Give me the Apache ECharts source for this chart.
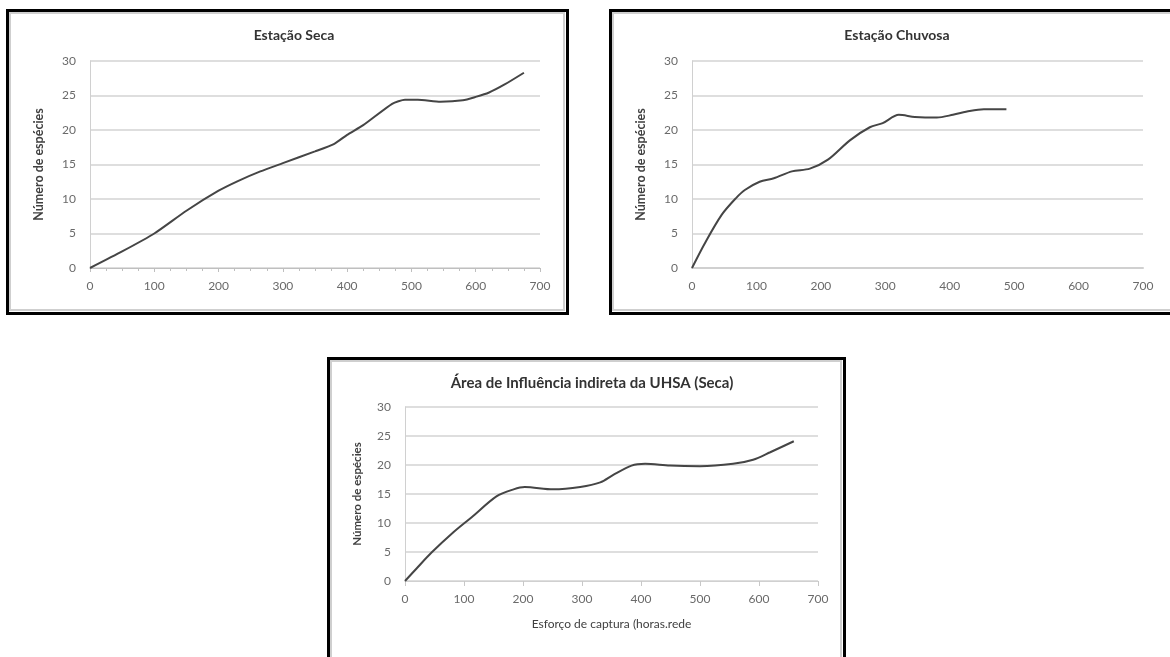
<!DOCTYPE html>
<html>
<head>
<meta charset="utf-8">
<script src="https://cdn.jsdelivr.net/npm/echarts@6/dist/echarts.min.js"></script>
<style>
html,body{margin:0;padding:0;background:#fff;}
#c{width:1170px;height:657px;}
</style>
</head>
<body>
<div id="c"></div>
<script>
// Estação Seca
const secaX = [0, 50, 100, 150, 200, 230, 265, 300, 350, 380, 400, 425, 470, 490, 510, 545, 580, 600, 620, 645, 675];
const secaY = [0, 2.4, 5, 8.3, 11.2, 12.6, 14, 15.2, 16.9, 18, 19.3, 20.7, 23.8, 24.4, 24.4, 24.1, 24.3, 24.8, 25.4, 26.6, 28.3];
// Estação Chuvosa
const chuvX = [0, 20, 46, 68, 82, 105, 127, 155, 183, 211, 245, 276, 296, 321, 346, 380, 405, 431, 453, 488];
const chuvY = [0, 3.6, 7.7, 10.1, 11.3, 12.5, 13.0, 14.0, 14.4, 15.7, 18.5, 20.4, 21.0, 22.2, 21.9, 21.8, 22.2, 22.75, 23.0, 23.0];
// Área de Influência indireta da UHSA (Seca)
const aiiX = [0, 20, 45, 82, 113, 155, 184, 203, 251, 297, 331, 353, 384, 407, 449, 500, 556, 590, 619, 659];
const aiiY = [0, 2.2, 4.9, 8.4, 11.0, 14.6, 15.8, 16.2, 15.8, 16.2, 17.0, 18.3, 19.9, 20.2, 19.9, 19.8, 20.2, 20.9, 22.2, 24.1];

const titles = ['Estação Seca', 'Estação Chuvosa', 'Área de Influência indireta da UHSA (Seca)'];
const yName = 'Número de espécies';
const xName = 'Esforço de captura (horas.rede';

const FONT = 'Lato, "Open Sans", sans-serif';
const chart = echarts.init(document.getElementById('c'), null, {renderer: 'canvas'});

function pairs(xs, ys){ return xs.map((x,i)=>[x, ys[i]]); }

function xAxis(gi, opts){
  return Object.assign({
    type:'value', gridIndex: gi, min:0, max:700, interval:100,
    axisLine:{show:true, lineStyle:{color:'#bfbfbf', width:1}},
    axisTick:{show:true, length:4, lineStyle:{color:'#bfbfbf'}},
    axisLabel:{color:'#6a6a6a', fontSize:12, fontFamily:FONT, margin:12},
    splitLine:{show:false}
  }, opts||{});
}
function yAxis(gi, gap, opts){
  return Object.assign({
    type:'value', gridIndex: gi, min:0, max:30, interval:5,
    name: yName, nameLocation:'middle', nameGap: gap, nameRotate: 90,
    nameTextStyle:{color:'#404040', fontSize:12.5, fontWeight:'bold', fontFamily:FONT},
    axisLine:{show:true, lineStyle:{color:'#d0d0d0', width:1}},
    axisTick:{show:false},
    axisLabel:{color:'#6a6a6a', fontSize:12, fontFamily:FONT, margin:14},
    splitLine:{show:true, lineStyle:{color:'#dedede', width:2}}
  }, opts||{});
}
function line(gi, xs, ys, sm){
  return {
    type:'line', xAxisIndex: gi, yAxisIndex: gi, data: pairs(xs, ys),
    smooth: sm, symbol:'none',
    lineStyle:{color:'#454545', width:2}
  };
}

const TS = {fontSize:14, fontWeight:'bold', color:'#333', fontFamily:FONT};
const option = {
  backgroundColor:'#ffffff',
  animation:false,
  title:[
    {text:titles[0], left:289, top:23, textAlign:'center', textStyle:TS},
    {text:titles[1], left:892, top:23, textAlign:'center', textStyle:TS},
    {text:titles[2], left:587, top:371, textAlign:'center', textStyle:Object.assign({}, TS, {fontSize:15})}
  ],
  grid:[
    {left:90, right:630, top:61, bottom:389},
    {left:692, right:27, top:61, bottom:389},
    {left:405, right:352, top:407, bottom:76}
  ],
  xAxis:[
    xAxis(0, {minorTick:{show:true, splitNumber:4, length:3, lineStyle:{color:'#bfbfbf'}}}),
    xAxis(1, {axisTick:{show:false}, axisLine:{show:true, lineStyle:{color:'#d0d0d0', width:2}}}),
    xAxis(2, {name:xName, nameLocation:'middle', nameGap:37,
      nameTextStyle:{color:'#404040', fontSize:12, fontFamily:FONT},
      axisTick:{show:true, length:5, lineStyle:{color:'#c8c8c8'}},
      axisLine:{show:true, lineStyle:{color:'#d0d0d0', width:1}}})
  ],
  yAxis:[
    yAxis(0, 45),
    yAxis(1, 45),
    yAxis(2, 42, {nameTextStyle:{color:'#404040', fontSize:11.5, fontWeight:'bold', fontFamily:FONT}})
  ],
  series:[
    line(0, secaX, secaY, 0.2),
    line(1, chuvX, chuvY, 0.3),
    line(2, aiiX, aiiY, 0.3)
  ],
  graphic:[
    {type:'rect', shape:{x:10, y:13, width:554, height:297}, style:{fill:null, stroke:'#cfcfcf', lineWidth:2}, silent:true},
    {type:'rect', shape:{x:7.5, y:10.5, width:560, height:303}, style:{fill:null, stroke:'#000', lineWidth:3}, silent:true},
    {type:'rect', shape:{x:613, y:13, width:570, height:297}, style:{fill:null, stroke:'#cfcfcf', lineWidth:2}, silent:true},
    {type:'rect', shape:{x:610.5, y:10.5, width:580, height:303}, style:{fill:null, stroke:'#000', lineWidth:3}, silent:true},
    {type:'rect', shape:{x:331, y:361, width:510, height:310}, style:{fill:null, stroke:'#cfcfcf', lineWidth:2}, silent:true},
    {type:'rect', shape:{x:328.5, y:358.5, width:516, height:320}, style:{fill:null, stroke:'#000', lineWidth:3}, silent:true}
  ]
};
chart.setOption(option);
</script>
</body>
</html>
